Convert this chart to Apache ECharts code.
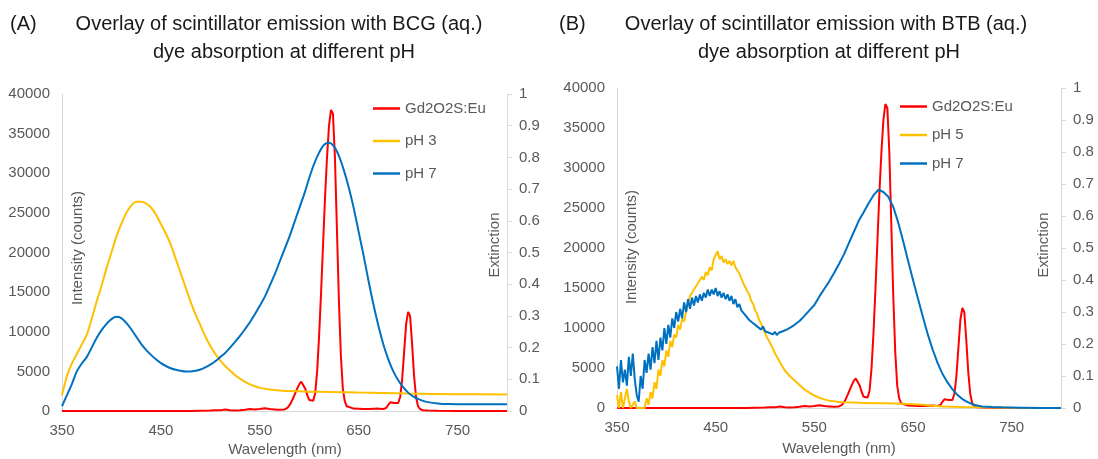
<!DOCTYPE html>
<html><head><meta charset="utf-8">
<script src="https://cdn.jsdelivr.net/npm/echarts@6/dist/echarts.min.js"></script>
<style>html,body{margin:0;padding:0;background:#fff}#c{width:1098px;height:459px}</style>
</head><body><div id="c"></div>
<script>
// ---------- DATA ----------
const titlesA = ['Overlay of scintillator emission with BCG (aq.)', 'dye absorption at different pH'];
const titlesB = ['Overlay of scintillator emission with BTB (aq.)', 'dye absorption at different pH'];
const seriesNamesA = ['Gd2O2S:Eu', 'pH 3', 'pH 7'];
const seriesNamesB = ['Gd2O2S:Eu', 'pH 5', 'pH 7'];
const wavelengthTicks = [350, 450, 550, 650, 750];

// scintillator emission, [wavelength nm, intensity counts]
const gdEmission = [[350,0],[400,0],[450,0],[480,0],[500,50],[505,100],[510,80],[515,200],[520,100],[525,50],[530,80],[535,150],[540,250],[545,200],[550,250],[555,350],[560,250],[565,200],[570,150],[575,200],[578,400],[581,900],[584,1700],[587,2600],[590,3400],[592,3700],[594,3500],[596,2800],[598,2000],[600,1400],[602,1200],[604,1300],[606,2200],[608,5000],[610,9500],[612,15000],[614,21000],[616,27000],[618,32000],[620,36000],[622,38000],[623,38200],[624,37500],[626,32000],[628,23000],[630,14000],[632,7000],[634,2800],[636,1200],[638,600],[640,400],[645,300],[650,280],[655,250],[660,250],[665,280],[670,300],[675,250],[678,400],[680,800],[682,1100],[684,1200],[686,1000],[688,900],[690,1000],[692,1800],[694,4000],[696,7500],[698,11000],[700,12500],[701,12550],[702,12000],[704,8500],[706,4500],[708,1800],[710,600],[712,250],[715,100],[720,50],[730,20],[750,10],[800,0]];

// BCG absorption, [wavelength nm, extinction]
const bcgPH3 = [[350,0.05],[355,0.11],[360,0.15],[365,0.18],[370,0.21],[375,0.24],[380,0.29],[385,0.345],[390,0.395],[395,0.45],[400,0.5],[405,0.55],[410,0.59],[415,0.625],[420,0.648],[425,0.66],[430,0.66],[435,0.655],[440,0.642],[445,0.62],[450,0.59],[455,0.56],[460,0.525],[465,0.48],[470,0.435],[475,0.39],[480,0.345],[485,0.305],[490,0.27],[495,0.235],[500,0.205],[505,0.18],[510,0.16],[515,0.142],[520,0.127],[525,0.113],[530,0.102],[535,0.092],[540,0.084],[545,0.078],[550,0.073],[560,0.068],[570,0.065],[580,0.063],[600,0.061],[620,0.06],[650,0.058],[700,0.055],[750,0.053],[800,0.052]];
const bcgPH7 = [[350,0.015],[355,0.05],[360,0.085],[365,0.125],[370,0.15],[375,0.17],[380,0.2],[385,0.23],[390,0.255],[395,0.275],[400,0.29],[405,0.297],[410,0.293],[415,0.278],[420,0.258],[425,0.235],[430,0.212],[435,0.193],[440,0.177],[445,0.163],[450,0.151],[455,0.142],[460,0.135],[465,0.13],[470,0.127],[475,0.125],[480,0.125],[485,0.127],[490,0.131],[495,0.138],[500,0.146],[505,0.157],[510,0.17],[515,0.183],[520,0.2],[525,0.218],[530,0.237],[535,0.258],[540,0.28],[545,0.305],[550,0.332],[555,0.36],[560,0.395],[565,0.43],[570,0.47],[575,0.51],[580,0.55],[585,0.595],[590,0.64],[595,0.685],[600,0.735],[605,0.78],[610,0.815],[615,0.84],[620,0.846],[625,0.835],[630,0.805],[635,0.76],[640,0.705],[645,0.64],[650,0.565],[655,0.49],[660,0.41],[665,0.335],[670,0.268],[675,0.21],[680,0.163],[685,0.125],[690,0.097],[695,0.075],[700,0.058],[705,0.046],[710,0.038],[715,0.032],[720,0.028],[730,0.024],[740,0.022],[760,0.021],[800,0.021]];

// BTB absorption, [wavelength nm, extinction]
const btbPH5 = [[350,0.04],[352,0.0],[354,0.05],[356,0.0],[358,0.03],[360,0.06],[362,0.02],[364,0.0],[366,0.0],[368,0.02],[370,0.0],[372,0.0],[374,0.0],[376,0.0],[378,0.0],[380,0.03],[382,0.01],[384,0.05],[386,0.03],[388,0.08],[390,0.06],[392,0.12],[394,0.1],[396,0.15],[398,0.13],[400,0.18],[402,0.16],[404,0.21],[406,0.19],[408,0.23],[410,0.22],[412,0.26],[414,0.245],[416,0.28],[418,0.27],[420,0.3],[422,0.305],[424,0.35],[426,0.345],[428,0.37],[430,0.365],[432,0.39],[434,0.385],[436,0.41],[438,0.4],[440,0.425],[442,0.415],[444,0.44],[446,0.43],[448,0.465],[450,0.46],[452,0.49],[454,0.465],[456,0.475],[458,0.455],[460,0.465],[462,0.45],[464,0.46],[466,0.445],[468,0.46],[470,0.44],[472,0.445],[474,0.42],[476,0.415],[478,0.39],[480,0.385],[482,0.365],[484,0.355],[486,0.335],[488,0.325],[490,0.305],[492,0.295],[494,0.275],[496,0.265],[498,0.245],[500,0.235],[502,0.22],[504,0.21],[506,0.198],[508,0.185],[510,0.172],[512,0.16],[514,0.15],[516,0.138],[518,0.128],[520,0.118],[525,0.1],[530,0.086],[535,0.072],[540,0.058],[545,0.048],[550,0.039],[555,0.032],[560,0.027],[565,0.023],[570,0.021],[575,0.019],[580,0.018],[590,0.017],[600,0.016],[610,0.015],[620,0.015],[630,0.014],[640,0.013],[650,0.012],[660,0.01],[670,0.007],[680,0.005],[690,0.004],[700,0.003],[720,0.002],[750,0.001],[800,0]];
const btbPH7 = [[350,0.13],[352,0.06],[354,0.15],[356,0.08],[358,0.12],[360,0.07],[362,0.16],[364,0.1],[366,0.17],[368,0.09],[370,0.04],[372,0.02],[374,0.1],[376,0.06],[378,0.15],[380,0.11],[382,0.17],[384,0.12],[386,0.19],[388,0.14],[390,0.21],[392,0.15],[394,0.22],[396,0.18],[398,0.25],[400,0.2],[402,0.26],[404,0.22],[406,0.28],[408,0.25],[410,0.3],[412,0.27],[414,0.31],[416,0.28],[418,0.33],[420,0.3],[422,0.34],[424,0.31],[426,0.345],[428,0.32],[430,0.35],[432,0.33],[434,0.355],[436,0.335],[438,0.36],[440,0.345],[442,0.37],[444,0.35],[446,0.37],[448,0.355],[450,0.375],[452,0.35],[454,0.365],[456,0.345],[458,0.36],[460,0.34],[462,0.355],[464,0.335],[466,0.35],[468,0.325],[470,0.34],[472,0.315],[474,0.325],[476,0.305],[478,0.31],[480,0.29],[482,0.295],[484,0.275],[486,0.28],[488,0.265],[490,0.27],[492,0.255],[494,0.26],[496,0.245],[498,0.255],[500,0.24],[502,0.245],[504,0.235],[506,0.24],[508,0.23],[510,0.238],[512,0.228],[514,0.235],[516,0.232],[518,0.24],[520,0.236],[522,0.245],[524,0.242],[526,0.252],[528,0.25],[530,0.26],[535,0.272],[540,0.288],[545,0.305],[550,0.322],[555,0.348],[560,0.372],[565,0.395],[570,0.422],[575,0.45],[580,0.48],[585,0.515],[590,0.55],[595,0.585],[600,0.612],[605,0.64],[610,0.665],[615,0.682],[620,0.675],[625,0.66],[630,0.628],[635,0.58],[640,0.522],[645,0.46],[650,0.4],[655,0.342],[660,0.285],[665,0.23],[670,0.182],[675,0.14],[680,0.106],[685,0.08],[690,0.058],[695,0.041],[700,0.028],[705,0.019],[710,0.012],[715,0.008],[720,0.005],[730,0.003],[740,0.002],[760,0.001],[780,0],[800,0]];

// ---------- STYLE ----------
const FONT = '"Liberation Sans", Arial, sans-serif';
const AXIS = '#d9d9d9', LABEL = '#595959', TITLE = '#1a1a1a';
const RED = '#ff0000', ORANGE = '#ffc000', BLUE = '#0070c0';
const G = [ {left:62, top:94, width:445, height:317}, {left:617, top:88, width:444, height:320} ];

function xAxis(gi){
  return {type:'value', gridIndex:gi, min:350, max:800, interval:100,
    axisLine:{show:true, onZero:false, lineStyle:{color:AXIS, width:1}}, axisTick:{show:false}, splitLine:{show:false},
    axisLabel:{color:LABEL, fontSize:15, fontFamily:FONT, margin:12, showMaxLabel:false,
      formatter:v => wavelengthTicks.includes(v) ? String(v) : ''}};
}
function yLeft(gi){
  return {type:'value', gridIndex:gi, position:'left', min:0, max:40000, interval:5000,
    axisLine:{show:true, lineStyle:{color:AXIS, width:1}}, axisTick:{show:false}, splitLine:{show:false},
    axisLabel:{color:LABEL, fontSize:15, fontFamily:FONT, margin:12, formatter:v => String(v)}};
}
function yRight(gi){
  return {type:'value', gridIndex:gi, position:'right', min:0, max:1, interval:0.1,
    axisLine:{show:true, lineStyle:{color:AXIS, width:1}}, axisTick:{show:true, length:5, inside:false, lineStyle:{color:AXIS}}, splitLine:{show:false},
    axisLabel:{color:LABEL, fontSize:15, fontFamily:FONT, margin:12, formatter:v => String(Math.round(v*10)/10)}};
}
function line(name, data, color, xi, yi, smooth){
  return {type:'line', name, data, xAxisIndex:xi, yAxisIndex:yi, symbol:'none', showSymbol:false, smooth:smooth,
    lineStyle:{color, width:2}, itemStyle:{color}, animation:false};
}
function legend(names, left, top, gap){
  return {orient:'vertical', left, top, data:names, icon:'rect', itemWidth:27, itemHeight:2.5, itemGap:gap,
    textStyle:{color:LABEL, fontSize:15, fontFamily:FONT, lineHeight:15}, selectedMode:false};
}
function txt(text, x, y, size, color, align, rot){
  return {type:'text', x, y, rotation:rot||0, silent:true,
    style:{text, fill:color, fontSize:size, fontFamily:FONT, align:align||'center', verticalAlign:'middle'}};
}

const chart = echarts.init(document.getElementById('c'), null, {renderer:'canvas'});
chart.setOption({
  backgroundColor:'#ffffff',
  animation:false,
  grid:G,
  xAxis:[xAxis(0), xAxis(1)],
  yAxis:[yLeft(0), yRight(0), yLeft(1), yRight(1)],
  legend:[legend(seriesNamesA, 368, 96, 17.5), legend(seriesNamesB, 895, 94, 13.5)],
  series:[
    line(seriesNamesA[0], gdEmission, RED, 0, 0, false),
    line(seriesNamesA[1], bcgPH3, ORANGE, 0, 1, 0.3),
    line(seriesNamesA[2], bcgPH7, BLUE, 0, 1, 0.3),
    line(seriesNamesB[0], gdEmission, RED, 1, 2, false),
    line(seriesNamesB[1], btbPH5, ORANGE, 1, 3, false),
    line(seriesNamesB[2], btbPH7, BLUE, 1, 3, false)
  ],
  graphic:[
    txt('(A)', 10, 24, 20, TITLE, 'left'),
    txt(titlesA[0], 279, 24, 20, TITLE),
    txt(titlesA[1], 284, 52, 20, TITLE),
    txt('(B)', 559, 24, 20, TITLE, 'left'),
    txt(titlesB[0], 826, 24, 20, TITLE),
    txt(titlesB[1], 829, 52, 20, TITLE),
    txt('Intensity (counts)', 78, 248, 15, LABEL, 'center', Math.PI/2),
    txt('Extinction', 495, 245, 15, LABEL, 'center', Math.PI/2),
    txt('Wavelength (nm)', 285, 450, 15, LABEL),
    txt('Intensity (counts)', 632, 247, 15, LABEL, 'center', Math.PI/2),
    txt('Extinction', 1044, 245, 15, LABEL, 'center', Math.PI/2),
    txt('Wavelength (nm)', 839, 449, 15, LABEL)
  ]
});
</script></body></html>
